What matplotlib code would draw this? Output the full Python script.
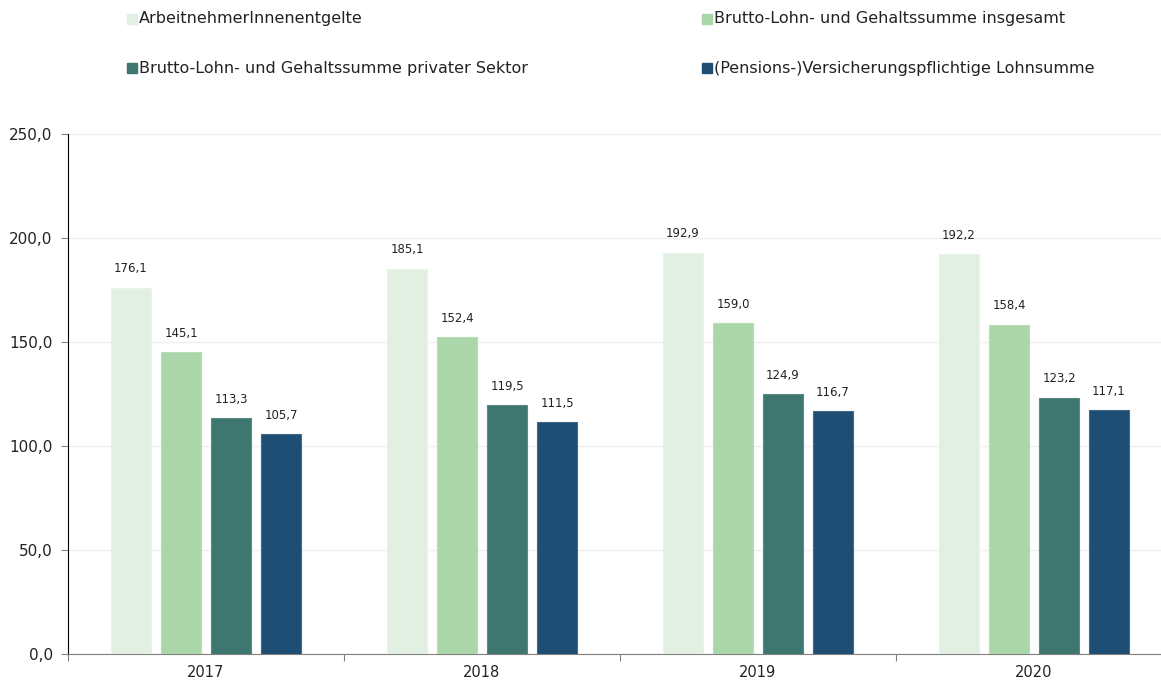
import numpy as np
import matplotlib.pyplot as plt
from matplotlib.patches import Rectangle

plt.rcParams['font.family'] = ['DejaVu Sans']

# Daten (Index-Werte je Jahr)
jahre = ['2017', '2018', '2019', '2020']
serien = [
    'ArbeitnehmerInnenentgelte',
    'Brutto-Lohn- und Gehaltssumme insgesamt',
    'Brutto-Lohn- und Gehaltssumme privater Sektor',
    '(Pensions-)Versicherungspflichtige Lohnsumme',
]
arbeitnehmer = [176.1, 185.1, 192.9, 192.2]
brutto_gesamt = [145.1, 152.4, 159.0, 158.4]
brutto_privat = [113.3, 119.5, 124.9, 123.2]
versicherung = [105.7, 111.5, 116.7, 117.1]
werte = [arbeitnehmer, brutto_gesamt, brutto_privat, versicherung]
farben = ['#E2F0E3', '#ABD6AA', '#3E7770', '#1F4E75']
kanten = ['#E8F3E9', '#B8DCB7', '#5A8A84', '#3F6A8E']

fig = plt.figure(figsize=(11.61, 6.83), dpi=100)
ax = fig.add_axes([68 / 1161, 29 / 683, 1104 / 1161, 520 / 683])

x = np.arange(len(jahre))
breite = 40 / 276
abstand = 50 / 276
for i, (name, vals) in enumerate(zip(serien, werte)):
    pos = x + (i - 1.5) * abstand
    bars = ax.bar(pos, vals, width=breite, color=farben[i], edgecolor=kanten[i],
                  linewidth=0.8, zorder=3, label=name)
    for b, v in zip(bars, vals):
        ax.annotate(f'{v:.1f}'.replace('.', ','), (b.get_x() + b.get_width() / 2, v),
                    xytext=(0, 9), textcoords='offset points', ha='center', va='bottom',
                    fontsize=8.5, color='#222222')

ax.set_xlim(-0.5, 3.5)
ax.set_ylim(0, 250)
ax.set_yticks(np.arange(0, 251, 50))
ax.set_yticklabels([f'{t:.1f}'.replace('.', ',') for t in np.arange(0, 251, 50)],
                   fontsize=11, color='#222222')
ax.yaxis.grid(True, color='#EFEFEF', linewidth=1, zorder=0)
ax.set_axisbelow(True)

# Jahreslabels in der Mitte, Striche an den Gruppengrenzen
ax.set_xticks(np.arange(-0.5, 3.6, 1.0))
ax.set_xticklabels([])
ax.set_xticks(x, minor=True)
ax.set_xticklabels(jahre, minor=True, fontsize=10.5, color='#222222')
ax.tick_params(axis='x', which='minor', length=0, pad=8)
ax.tick_params(axis='x', which='major', length=5, color='#808080')
ax.tick_params(axis='y', length=5, color='#808080', pad=6)

for s in ['top', 'right']:
    ax.spines[s].set_visible(False)
ax.spines['left'].set_color('black')
ax.spines['bottom'].set_color('#808080')

# Legende in zwei Spalten oben
leg_pos = [(127, 19), (702, 19), (127, 68), (702, 68)]
for (px, py), name, c in zip(leg_pos, serien, farben):
    fig.patches.append(Rectangle((px / 1161, 1 - (py + 5) / 683), 10 / 1161, 10 / 683,
                                 transform=fig.transFigure, color=c, figure=fig))
    fig.text((px + 12) / 1161, 1 - py / 683, name, fontsize=11.5, va='center', ha='left',
             color='#222222')

fig.savefig('out.png', dpi=100)
